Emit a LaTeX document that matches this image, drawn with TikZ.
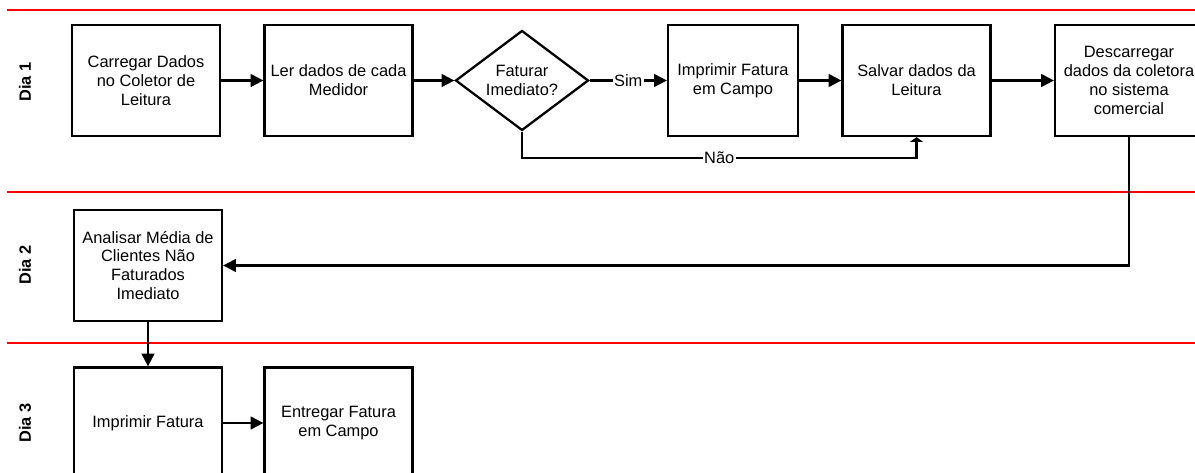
\documentclass[tikz,border=0pt]{standalone}
\usepackage{fontspec}
\setmainfont{Liberation Sans}
\usetikzlibrary{shapes.geometric,arrows.meta}
\begin{document}
\begin{tikzpicture}[x=0.75pt,y=-0.75pt,>={Triangle[length=9.5pt,width=9.5pt]},
	font=\fontsize{12.3}{14.2}\selectfont,
	box/.style={draw,line width=1.7pt,minimum width=111pt,minimum height=83.25pt,inner sep=0pt,align=center},
	decision/.style={draw,diamond,line width=1.7pt,aspect=1.33,minimum width=99.75pt,minimum height=75pt,inner sep=0pt,align=center},
	lane/.style={red,line width=1.5pt},
	flow/.style={->,line width=1.6pt},
	daylabel/.style={rotate=90,font=\fontsize{12.3}{14.2}\selectfont\bfseries}]
	\useasboundingbox (0,0) rectangle (1195,473);
	\clip (0,0) rectangle (1195,473);
	\path
	(146,80.5) coordinate (P1)
	(338.5,80.5) coordinate (P2)
	(522,80.5) coordinate (P3)
	(733,80.5) coordinate (P4)
	(916.5,80.5) coordinate (P5)
	(1129,80.5) coordinate (P6)
	(148,265.5) coordinate (P7)
	(148,423) coordinate (P8)
	(338.5,423) coordinate (P9)
	(0,158) coordinate (naoY)
	;
	% raias
	\draw[lane] (7,10) -- (1195,10);
	\draw[lane] (7,192) -- (1195,192);
	\draw[lane] (7,343.5) -- (1195,343.5);
	\node[daylabel] (dia1) at (25,82) {Dia 1};
	\node[daylabel] (dia2) at (25,265) {Dia 2};
	\node[daylabel] (dia3) at (25,423) {Dia 3};
	% dia 1
	\node[box] (carregar) at (P1) {Carregar Dados\\no Coletor de\\Leitura};
	\node[box] (ler) at (P2) {Ler dados de cada\\Medidor};
	\node[decision] (faturar) at (P3) {Faturar\\Imediato?};
	\node[box,minimum width=97.5pt] (imprimircampo) at (P4) {Imprimir Fatura\\em Campo};
	\node[box] (salvar) at (P5) {Salvar dados da\\Leitura};
	\node[box] (descarregar) at (P6) {Descarregar\\dados da coletora\\no sistema\\comercial};
	% dia 2
	\node[box] (analisar) at (P7) {Analisar Média de\\Clientes Não\\Faturados\\Imediato};
	% dia 3
	\node[box] (imprimir) at (P8) {Imprimir Fatura};
	\node[box] (entregar) at (P9) {Entregar Fatura\\em Campo};
	\draw[flow] (carregar) -- (ler);
	\draw[flow] (ler) -- (faturar);
	\draw[flow] (faturar) -- node[fill=white,inner sep=1pt]{Sim} (imprimircampo);
	\draw[flow] (imprimircampo) -- (salvar);
	\draw[flow] (salvar) -- (descarregar);
	\draw[line width=1.6pt,-{Triangle[length=3.5pt,width=9.5pt]}] (faturar.south) -- (faturar.south |- naoY) -| node[pos=0.25,fill=white,inner sep=1pt]{Não} (salvar.south);
	\draw[flow] (descarregar.south) |- (analisar.east);
	\draw[flow] (analisar) -- (imprimir);
	\draw[flow] (imprimir) -- (entregar);
\end{tikzpicture}
\end{document}
